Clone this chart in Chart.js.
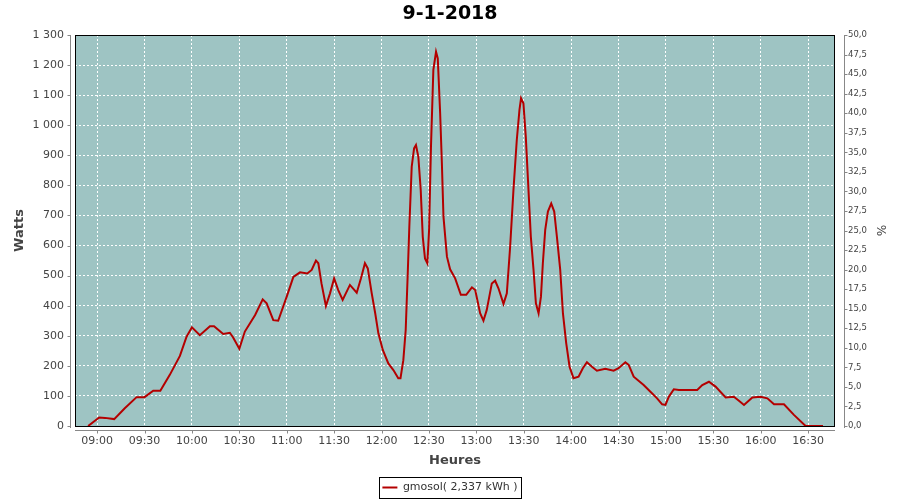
<!DOCTYPE html>
<html lang="fr">
<head>
<meta charset="utf-8">
<title>9-1-2018</title>
<script src="https://cdn.jsdelivr.net/npm/chart.js@4.4.1/dist/chart.umd.min.js"></script>
<style>
    html, body { margin: 0; padding: 0; background: #fff; }
    #graphe { display: block; }
</style>
</head>
<body>
<canvas id="graphe" width="900" height="500"></canvas>
<script>
/* ============ DONNÉES ============ */

// heure de chaque mesure, en minutes depuis minuit
const minutes = [
    534.3, 541.3, 545, 550.8, 557.5, 565, 570, 575.5, 580, 586,
    592.4, 596.6, 600, 605, 611.4, 614, 619.8, 624, 626, 630,
    633.5, 640, 644.8, 647.3, 651.5, 654.6, 660, 664.2, 668.4, 673,
    675.8, 678.5, 680, 682, 684.8, 687.4, 690, 692.6, 695.4, 700,
    704.3, 707, 709.5, 711.3, 713.8, 716, 718, 720.8, 724.3, 727.5,
    730.6, 732, 733.8, 735.3, 736.6, 737.6, 739.1, 740.6, 741.8, 743.3,
    744.8, 746.1, 747.5, 749, 750.1, 751.3, 752.8, 754.5, 755.6, 757.1,
    758.2, 759.2, 761.4, 763.4, 766.6, 770.2, 773.6, 777.2, 779.3, 782.4,
    784.5, 786.6, 789.8, 791.9, 794, 797.2, 799.3, 801.4, 803.5, 805.6,
    807.3, 808.3, 809.8, 811.3, 813, 814.5, 816.2, 817.7, 819.4, 820.9,
    822.1, 823.6, 825.3, 827.4, 829.3, 831, 833.1, 834.8, 836.9, 839,
    841.5, 844.7, 847.4, 850, 853.2, 856.3, 861.6, 866.9, 870, 874.3,
    876.4, 879.6, 885.9, 890.2, 894.4, 897.6, 899.7, 901.8, 905, 908.2,
    919.8, 923, 927.2, 931.4, 937.8, 943, 946.2, 949.4, 954.7, 959.9,
    964.2, 968.4, 974.7, 981, 988.4, 999.4
];

const watts = [
    0, 28, 27, 23, 59, 96, 96, 117, 117, 170,
    233, 297, 328, 302, 332, 332, 306, 310, 295, 257,
    314, 369, 421, 408, 352, 350, 430, 496, 511, 507,
    519, 550, 541, 474, 399, 441, 491, 452, 419, 469,
    443, 491, 541, 524, 441, 375, 308, 253, 208, 186,
    159, 159, 219, 319, 508, 663, 862, 923, 934, 895,
    785, 629, 557, 541, 652, 929, 1184, 1244, 1222, 1040,
    873, 696, 563, 521, 491, 436, 436, 461, 452, 375,
    350, 386, 474, 483, 458, 406, 441, 596, 785, 951,
    1051, 1090, 1073, 962, 785, 629, 519, 408, 375, 430,
    541, 652, 713, 740, 713, 629, 519, 375, 275, 197,
    159, 164, 192, 212, 197, 184, 190, 184, 192, 212,
    203, 164, 136, 114, 92, 72, 70, 97, 122, 120,
    120, 136, 147, 131, 95, 97, 84, 70, 95, 97,
    92, 72, 72, 37, 0, 0
];

const titre = "9-1-2018";
const nomSerie = "gmosol( 2,337 kWh )";

// bornes des axes
const axeHeures = { min: 526, max: 1007, pas: 30 };
const axeWatts = { min: 0, max: 1300, pas: 100 };
const axePourcent = { min: 0, max: 50, pas: 2.5 };

/* ============ COULEURS ============ */

const couleurFond = "#9ec4c3";
const couleurSerie = "#b40000";
const couleurAxe = "#888888";
const couleurTexte = "#444444";

/* ============ FORMATS ============ */

function formatHeure(v) {
    const h = Math.floor(v / 60);
    const m = Math.round(v % 60);
    return String(h).padStart(2, "0") + ":" + String(m).padStart(2, "0");
}

function formatWatts(v) {
    return String(v).replace(/\B(?=(\d{3})+(?!\d))/g, " ");
}

function formatPourcent(v) {
    return v.toFixed(1).replace(".", ",");
}

/* ============ PLUGIN : fond, cadre, axes décalés, boîte de légende ============ */

const cadrePlot = {
    id: "cadrePlot",
    beforeDraw(chart) {
        const { ctx, chartArea: a } = chart;
        ctx.save();
        ctx.fillStyle = couleurFond;
        ctx.fillRect(a.left, a.top, a.right - a.left, a.bottom - a.top);
        ctx.restore();
    },
    afterDraw(chart) {
        const { ctx, chartArea: a, scales } = chart;
        ctx.save();
        ctx.lineWidth = 1;

        // cadre noir de la zone de tracé
        ctx.strokeStyle = "#000";
        ctx.strokeRect(a.left + 0.5, a.top + 0.5, a.right - a.left - 1, a.bottom - a.top);

        // axes gris, un peu décalés du cadre
        ctx.strokeStyle = couleurAxe;
        ctx.beginPath();
        const xg = a.left - 4.5;
        ctx.moveTo(xg, a.top);
        ctx.lineTo(xg, a.bottom + 2);
        scales.y.ticks.forEach(t => {
            const py = Math.round(scales.y.getPixelForValue(t.value)) + 0.5;
            ctx.moveTo(xg - 3, py);
            ctx.lineTo(xg, py);
        });

        const xd = a.right + 9.5;
        ctx.moveTo(xd, a.top);
        ctx.lineTo(xd, a.bottom + 2);
        scales.y2.ticks.forEach(t => {
            const py = Math.round(scales.y2.getPixelForValue(t.value)) + 0.5;
            ctx.moveTo(xd, py);
            ctx.lineTo(xd + 3, py);
        });

        const yb = a.bottom + 4.5;
        ctx.moveTo(a.left, yb);
        ctx.lineTo(a.right, yb);
        scales.x.ticks.forEach(t => {
            const px = Math.round(scales.x.getPixelForValue(t.value)) + 0.5;
            ctx.moveTo(px, yb);
            ctx.lineTo(px, yb + 3);
        });
        ctx.stroke();

        // boîte autour de la légende
        const boite = chart.legend && chart.legend.legendHitBoxes[0];
        if (boite) {
            const cy = Math.round(boite.top + boite.height / 2);
            ctx.strokeStyle = "#000";
            ctx.strokeRect(Math.round(boite.left) - 2.5, cy - 10.5, Math.round(boite.width) + 7, 21);
        }
        ctx.restore();
    }
};

/* ============ GRAPHIQUE ============ */

function initGraphe() {
    const ctx = document.getElementById("graphe");

    Chart.defaults.font.family = "'DejaVu Sans', sans-serif";
    Chart.defaults.font.size = 11;
    Chart.defaults.color = couleurTexte;

    const grille = { color: "#ffffff", lineWidth: 1, drawTicks: false };
    const bord = { display: false, dash: [2, 2] };

    new Chart(ctx, {
        type: "line",
        data: {
            datasets: [{
                label: nomSerie,
                data: minutes.map((m, i) => ({ x: m, y: watts[i] })),
                borderColor: couleurSerie,
                backgroundColor: couleurSerie,
                borderWidth: 2,
                tension: 0,
                pointRadius: 0,
                yAxisID: "y"
            }]
        },
        options: {
            responsive: false,
            animation: false,
            layout: { padding: { top: 0, left: 0, right: 0, bottom: -3 } },
            plugins: {
                tooltip: { enabled: false },
                title: {
                    display: true,
                    text: titre,
                    color: "#000",
                    font: { size: 19, weight: "bold" },
                    padding: { top: 3, bottom: 9.2 }
                },
                legend: {
                    position: "bottom",
                    labels: {
                        boxWidth: 15,
                        boxHeight: 2,
                        padding: 10,
                        color: "#333",
                        font: { size: 11 },
                        generateLabels: chart =>
                            Chart.defaults.plugins.legend.labels.generateLabels(chart)
                                .map(l => ({ ...l, lineWidth: 0, fillStyle: couleurSerie }))
                    }
                }
            },
            scales: {
                x: {
                    type: "linear",
                    position: "bottom",
                    min: axeHeures.min,
                    max: axeHeures.max,
                    grid: grille,
                    border: bord,
                    ticks: {
                        stepSize: axeHeures.pas,
                        includeBounds: false,
                        padding: 9,
                        maxRotation: 0,
                        autoSkip: false,
                        callback: v => formatHeure(v)
                    },
                    title: {
                        display: true,
                        text: "Heures",
                        font: { size: 13, weight: "bold" },
                        padding: { top: 0, bottom: 4 }
                    },
                    afterFit: s => { s.height = 46; }
                },
                y: {
                    position: "left",
                    min: axeWatts.min,
                    max: axeWatts.max,
                    grid: grille,
                    border: bord,
                    ticks: {
                        stepSize: axeWatts.pas,
                        padding: 11,
                        callback: v => formatWatts(v)
                    },
                    title: {
                        display: true,
                        text: "Watts",
                        font: { size: 13, weight: "bold" },
                        padding: { top: 12, bottom: 0 }
                    },
                    afterFit: s => { s.width = 75; }
                },
                y2: {
                    position: "right",
                    min: axePourcent.min,
                    max: axePourcent.max,
                    grid: { display: false, drawTicks: false },
                    border: { display: false },
                    ticks: {
                        stepSize: axePourcent.pas,
                        padding: 13,
                        font: { size: 8.5 },
                        callback: v => formatPourcent(v)
                    },
                    title: {
                        display: true,
                        text: "%",
                        font: { size: 12 },
                        padding: { top: 13, bottom: 0 }
                    },
                    afterFit: s => { s.width = 65; }
                }
            }
        },
        plugins: [cadrePlot]
    });
}

document.addEventListener("DOMContentLoaded", initGraphe);
</script>
</body>
</html>
